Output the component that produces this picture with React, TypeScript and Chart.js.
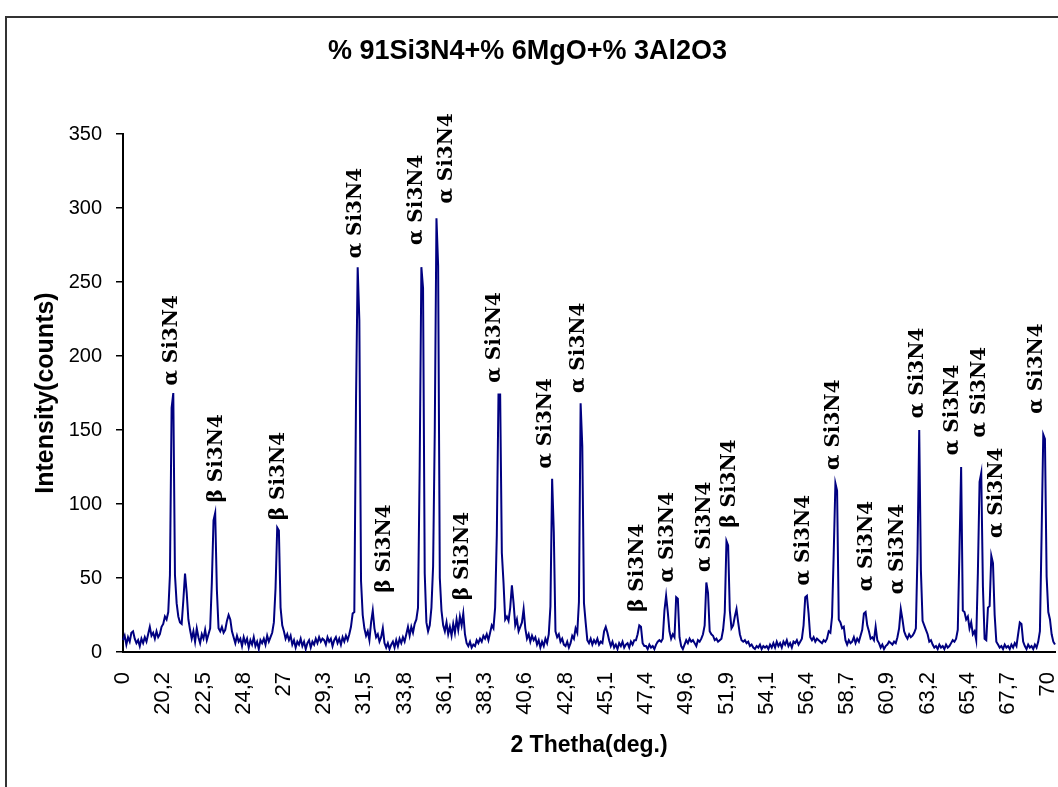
import React, { useEffect, useRef } from "react";
import { Chart, registerables } from "chart.js";

Chart.register(...registerables);

const CHART_TITLE = "% 91Si3N4+% 6MgO+% 3Al2O3";
const X_TITLE = "2 Thetha(deg.)";
const Y_TITLE = "Intensity(counts)";

// x-axis tick labels (one label every POINTS_PER_TICK measured points)
const TICK_LABELS = [
  "0", "20,2", "22,5", "24,8", "27", "29,3", "31,5", "33,8", "36,1", "38,3", "40,6", "42,8",
  "45,1", "47,4", "49,6", "51,9", "54,1", "56,4", "58,7", "60,9", "63,2", "65,4", "67,7", "70",
];
const POINTS_PER_TICK = 24;

// Intensity (counts), one row per tick interval
const SEG_00 = [8, 11, 5, 10, 7, 13, 14, 9, 6, 8, 4, 9, 6, 10, 7, 12, 17, 11, 13, 9, 14, 10, 12, 17];
const SEG_01 = [19, 24, 22, 27, 52, 165, 175, 52, 33, 24, 20, 19, 35, 53, 40, 22, 15, 9, 14, 7, 16, 10, 6, 12];
const SEG_02 = [9, 15, 8, 12, 16, 47, 89, 94, 42, 16, 14, 17, 13, 15, 21, 25, 22, 14, 10, 6, 11, 7, 9, 4];
const SEG_03 = [10, 6, 9, 3, 8, 5, 10, 4, 7, 2, 8, 6, 9, 5, 11, 7, 10, 13, 20, 43, 84, 82, 30, 18];
const SEG_04 = [14, 9, 12, 8, 11, 5, 8, 3, 7, 5, 9, 4, 7, 2, 6, 8, 3, 7, 5, 9, 6, 10, 7, 9];
const SEG_05 = [8, 5, 10, 7, 9, 4, 8, 10, 6, 9, 5, 10, 7, 11, 8, 12, 17, 26, 27, 169, 260, 224, 48, 25];
const SEG_06 = [16, 11, 14, 8, 20, 28, 16, 10, 12, 7, 10, 16, 6, 3, 6, 2, 5, 7, 3, 8, 4, 9, 6, 10];
const SEG_07 = [7, 12, 17, 11, 17, 13, 19, 22, 30, 126, 260, 246, 53, 20, 14, 18, 30, 58, 150, 293, 261, 50, 28, 18];
const SEG_08 = [14, 20, 12, 17, 11, 19, 13, 22, 15, 24, 18, 26, 12, 6, 4, 7, 3, 5, 4, 8, 6, 9, 7, 11];
const SEG_09 = [9, 12, 8, 13, 18, 16, 30, 79, 174, 174, 67, 47, 22, 24, 21, 30, 45, 33, 18, 22, 14, 17, 20, 29];
const SEG_10 = [16, 9, 12, 7, 11, 8, 10, 5, 8, 3, 7, 4, 9, 6, 12, 31, 117, 81, 14, 10, 12, 7, 9, 5];
const SEG_11 = [4, 7, 3, 6, 11, 9, 16, 13, 34, 168, 139, 33, 20, 8, 6, 9, 5, 8, 6, 9, 5, 7, 6, 14];
const SEG_12 = [17, 13, 8, 4, 7, 3, 5, 2, 6, 4, 7, 3, 5, 6, 3, 7, 5, 8, 8, 12, 18, 17, 6, 4];
const SEG_13 = [4, 2, 5, 3, 4, 2, 5, 7, 8, 7, 9, 28, 38, 27, 14, 9, 12, 10, 37, 36, 10, 4, 2, 5];
const SEG_14 = [8, 6, 9, 7, 8, 6, 4, 8, 7, 9, 12, 18, 47, 40, 14, 12, 11, 8, 9, 7, 8, 9, 15, 27];
const SEG_15 = [75, 72, 28, 16, 18, 24, 29, 20, 12, 8, 7, 8, 6, 7, 4, 5, 3, 2, 4, 3, 5, 2, 4, 3];
const SEG_16 = [4, 2, 5, 3, 6, 3, 7, 4, 6, 3, 7, 5, 8, 4, 6, 3, 7, 6, 8, 5, 7, 9, 18, 37];
const SEG_17 = [38, 26, 10, 8, 10, 7, 9, 8, 7, 6, 8, 7, 9, 14, 13, 24, 67, 114, 109, 22, 20, 16, 17, 8];
const SEG_18 = [5, 8, 6, 7, 10, 6, 9, 7, 11, 15, 26, 27, 18, 14, 9, 10, 8, 17, 8, 6, 3, 5, 2, 4];
const SEG_19 = [5, 7, 6, 5, 7, 6, 10, 16, 29, 22, 14, 11, 9, 12, 10, 11, 13, 16, 68, 150, 55, 21, 18, 15];
const SEG_20 = [12, 7, 8, 5, 3, 4, 2, 5, 3, 4, 2, 5, 3, 4, 6, 8, 7, 9, 15, 68, 125, 28, 27, 22];
const SEG_21 = [24, 16, 20, 12, 14, 8, 54, 115, 121, 44, 9, 8, 30, 31, 65, 60, 25, 7, 5, 3, 4, 2, 5, 3];
const SEG_22 = [4, 2, 5, 3, 6, 4, 12, 20, 19, 7, 4, 2, 5, 3, 4, 2, 5, 3, 7, 14, 79, 147, 144, 51];
const SEG_23 = [27, 22, 12, 7, 5];

const INTENSITY: number[] = [
  ...SEG_00, ...SEG_01, ...SEG_02, ...SEG_03, ...SEG_04, ...SEG_05, ...SEG_06, ...SEG_07,
  ...SEG_08, ...SEG_09, ...SEG_10, ...SEG_11, ...SEG_12, ...SEG_13, ...SEG_14, ...SEG_15,
  ...SEG_16, ...SEG_17, ...SEG_18, ...SEG_19, ...SEG_20, ...SEG_21, ...SEG_22, ...SEG_23,
];

// Phase labels: text, point index it stands over, count level where it starts
const PEAK_TEXT = [
  "α Si3N4", "β Si3N4", "β Si3N4", "α Si3N4", "β Si3N4", "α Si3N4", "α Si3N4", "β Si3N4",
  "α Si3N4", "α Si3N4", "α Si3N4", "β Si3N4", "α Si3N4", "α Si3N4", "β Si3N4", "α Si3N4",
  "α Si3N4", "α Si3N4", "α Si3N4", "α Si3N4", "α Si3N4", "α Si3N4", "α Si3N4", "α Si3N4",
];
const PEAK_INDEX = [29, 56, 93, 139, 156, 175, 193, 203, 222, 252, 272, 307, 325, 347, 362, 406, 424, 444, 462, 474, 495, 511, 521, 545];
const PEAK_LEVEL = [180, 101, 89, 266, 40, 275, 303, 35, 182, 124, 175, 27, 47, 54, 84, 45, 123, 41, 39, 158, 133, 145, 77, 161];

const SANS = "'Liberation Sans', Arial, Helvetica, sans-serif";

export default function App() {
  const canvasRef = useRef<HTMLCanvasElement | null>(null);

  useEffect(() => {
    document.body.style.margin = "0";
    const canvas = canvasRef.current;
    if (!canvas) return;

    const labels = INTENSITY.map((_, i) =>
      i % POINTS_PER_TICK === 0 && TICK_LABELS[i / POINTS_PER_TICK] !== undefined
        ? TICK_LABELS[i / POINTS_PER_TICK]
        : ""
    );

    const framePlugin = {
      id: "frame",
      beforeDraw(chart: any) {
        const ctx = chart.ctx;
        ctx.save();
        ctx.fillStyle = "#ffffff";
        ctx.fillRect(0, 0, chart.width, chart.height);
        ctx.strokeStyle = "#333333";
        ctx.lineWidth = 2;
        ctx.beginPath();
        ctx.moveTo(6, chart.height);
        ctx.lineTo(6, 17);
        ctx.lineTo(chart.width, 17);
        ctx.stroke();
        ctx.restore();
      },
    };

    const peakLabelPlugin = {
      id: "peakLabels",
      afterDatasetsDraw(chart: any) {
        const ctx = chart.ctx;
        const xs = chart.scales.x;
        const ys = chart.scales.y;
        ctx.save();
        ctx.fillStyle = "#000000";
        ctx.font = "bold 20px 'DejaVu Serif', 'Liberation Serif', serif";
        ctx.textAlign = "left";
        ctx.textBaseline = "middle";
        PEAK_TEXT.forEach((t, k) => {
          const x = xs.getPixelForValue(PEAK_INDEX[k]);
          const y = ys.getPixelForValue(PEAK_LEVEL[k]);
          ctx.save();
          ctx.translate(x, y);
          ctx.rotate(-Math.PI / 2);
          ctx.fillText(t, 0, 0);
          ctx.restore();
        });
        ctx.restore();
      },
    };

    const chart = new Chart(canvas, {
      type: "line",
      data: {
        labels,
        datasets: [
          {
            data: INTENSITY,
            borderColor: "#000080",
            borderWidth: 2,
            pointRadius: 0,
            tension: 0,
            fill: false,
          },
        ],
      },
      options: {
        animation: false,
        responsive: false,
        maintainAspectRatio: false,
        devicePixelRatio: 1,
        layout: { padding: { left: 0, right: 3, top: 0, bottom: 0 } },
        plugins: {
          legend: { display: false },
          tooltip: { enabled: false },
          title: {
            display: true,
            text: CHART_TITLE,
            color: "#000000",
            font: { family: SANS, size: 27, weight: "bold", lineHeight: 1.2 },
            padding: { top: 35, bottom: 66.6 },
          },
        },
        scales: {
          x: {
            type: "category",
            grid: { display: false, drawTicks: false },
            border: { display: true, color: "#000000", width: 2 },
            ticks: {
              autoSkip: false,
              minRotation: 90,
              maxRotation: 90,
              padding: 20,
              color: "#000000",
              font: { family: SANS, size: 22 },
              callback: (_v: any, i: number) => (labels[i] ? labels[i] : null),
            },
            title: {
              display: true,
              text: X_TITLE,
              color: "#000000",
              font: { family: SANS, size: 23, weight: "bold", lineHeight: 1.2 },
              padding: { top: 0, bottom: 28 },
            },
            afterFit: (s: any) => {
              s.height = 135;
              s.paddingRight = 0;
              s.paddingLeft = 0;
            },
          },
          y: {
            min: 0,
            max: 350,
            grid: {
              drawOnChartArea: false,
              drawTicks: true,
              tickLength: 7,
              color: "#000000",
              lineWidth: 1.5,
            },
            border: { display: true, color: "#000000", width: 2 },
            ticks: {
              stepSize: 50,
              padding: 14,
              color: "#000000",
              font: { family: SANS, size: 20 },
            },
            title: {
              display: true,
              text: Y_TITLE,
              color: "#000000",
              font: { family: SANS, size: 25, weight: "bold", lineHeight: 1.2 },
              padding: { top: 31, bottom: 0 },
            },
            afterFit: (s: any) => {
              s.width = 123;
            },
          },
        },
      },
      plugins: [framePlugin, peakLabelPlugin],
    } as any);

    return () => chart.destroy();
  }, []);

  return <canvas ref={canvasRef} width={1058} height={787} style={{ display: "block" }} />;
}
